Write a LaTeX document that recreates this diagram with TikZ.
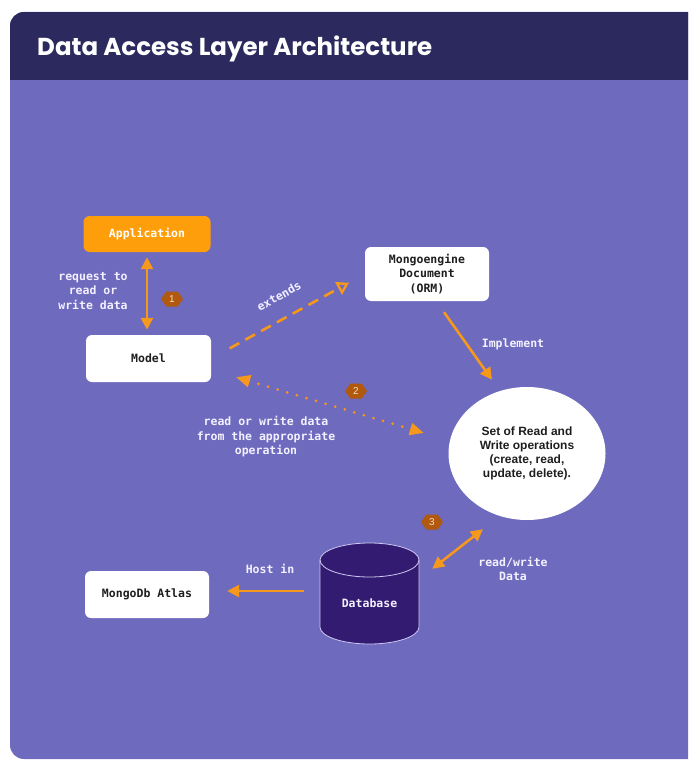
\documentclass[tikz,border=0pt]{standalone}
\usepackage{fontspec}
\setmainfont{Liberation Sans}
\setmonofont{DejaVu Sans Mono}
\newfontfamily\titlefont{Poppins}
\usetikzlibrary{arrows.meta,shapes.geometric,shapes.symbols,calc}

\definecolor{cardhead}{HTML}{2B295E}
\definecolor{cardbody}{HTML}{6E6ABE}
\definecolor{flow}{HTML}{F5981C}
\definecolor{appfill}{HTML}{FF9E0B}
\definecolor{badgefill}{HTML}{B0590F}
\definecolor{badgetext}{HTML}{F8DDBE}
\definecolor{dbfill}{HTML}{331B72}
\definecolor{dbline}{HTML}{CFC8F2}
\definecolor{labeltext}{HTML}{F3F1FF}
\definecolor{boxtext}{HTML}{1E1E1E}

\tikzset{
  box/.style={draw=none, fill=white, rounded corners=6pt, inner sep=0pt,
    align=center, text=boxtext, font=\ttfamily\bfseries\fontsize{11.5}{14.5}\selectfont},
  lbl/.style={text=labeltext, align=center, inner sep=0pt,
    font=\ttfamily\bfseries\fontsize{11.5}{14.5}\selectfont},
  badge/.style={signal, signal to=east and west, signal pointer angle=110,
    fill=badgefill, text=badgetext, inner sep=0pt, minimum width=22pt,
    minimum height=15pt, font=\fontsize{10}{11}\selectfont},
  flowline/.style={draw=flow, line width=2.6pt},
  ftip/.tip={Triangle[length=12pt,width=12pt]},
  fbigtip/.tip={Triangle[length=14pt,width=12pt]},
  fopentip/.tip={Triangle[open,length=12pt,width=14pt,line width=2.4pt]},
}

\begin{document}
\begin{tikzpicture}[x=1pt,y=-1pt]
\useasboundingbox (0,0) rectangle (688,760);
\clip (0,0) rectangle (688,760);

% card with its dark header band
\fill[cardbody, rounded corners=14pt] (10,12) rectangle (740,759);
\begin{scope}
  \clip[rounded corners=14pt] (10,12) rectangle (740,759);
  \fill[cardhead] (10,12) rectangle (740,80);
\end{scope}
\node[anchor=base west, inner sep=0pt, text=white,
  font=\titlefont\bfseries\fontsize{24.5}{28}\selectfont]
  (title) at (37,56) {Data Access Layer Architecture};

% nodes
\node[box, fill=appfill, text=white, minimum width=127pt, minimum height=36pt]
  (app) at (147,234) {Application};
\node[box, minimum width=125pt, minimum height=47pt] (model) at (148.5,358.5) {Model};
\node[box, minimum width=124pt, minimum height=54pt] (orm) at (427,274)
  {Mongoengine\\Document\\(ORM)};
\node[box, minimum width=124pt, minimum height=47pt] (atlas) at (147,594.5)
  {MongoDb Atlas};
\node[ellipse, fill=white, inner sep=0pt, minimum width=157pt, minimum height=133pt,
  align=center, text=boxtext, font=\bfseries\fontsize{12}{13.8}\selectfont]
  (ops) at (527,453.5) {Set of Read and\\Write operations\\(create, read,\\update, delete).};

% database cylinder
\fill[dbfill] (320,560) -- (320,627)
  arc[start angle=180, end angle=360, x radius=49.5pt, y radius=17pt]
  -- (419,560)
  arc[start angle=0, end angle=180, x radius=49.5pt, y radius=17pt] -- cycle;
\draw[dbline, line width=0.8pt] (320,560) -- (320,627)
  arc[start angle=180, end angle=360, x radius=49.5pt, y radius=17pt]
  -- (419,560);
\draw[dbline, line width=0.8pt] (369.5,560) ellipse[x radius=49.5pt, y radius=17pt];
\node[inner sep=0pt, minimum width=100pt, minimum height=101pt]
  (db) at (369.5,593.5) {};
\node[text=labeltext, font=\ttfamily\bfseries\fontsize{11.5}{14}\selectfont]
  (dbname) at (369.5,603) {Database};

% connectors
\draw[flowline, ftip-ftip, shorten <=5pt, shorten >=5pt] (app.south) -- (app.south |- model.north);
\draw[flowline, dash pattern=on 11pt off 7pt, -fopentip, shorten <=21pt, shorten >=18pt]
  (model.east) -- (orm.west);
\draw[flowline, -ftip] ($(orm.south)+(17,11)$) -- ($(ops.north)+(-35,-7)$);
\draw[flowline, line width=3pt, line cap=round, dash pattern=on 0pt off 10pt, fbigtip-fbigtip]
  ($(model.south east)+(25,-5)$) -- ($(ops.west)+(-24.5,-20.5)$);
\draw[flowline, ftip-ftip] ($(db.north east)+(12.5,26)$) -- ($(ops.south)+(-44,9)$);
\draw[flowline, -ftip, shorten <=15.5pt, shorten >=18pt]
  ($(db.west)+(0,-2.5)$) -- ($(atlas.east)+(0,-3.5)$);

% connector labels
\node[lbl] (l1) at (93,291) {request to\\read or\\write data};
\node[lbl, rotate=29] (l2) at (279,296) {extends};
\node[lbl] (l3) at (513,344) {Implement};
\node[lbl] (l4) at (266,437) {read or write data\\from the appropriate\\operation};
\node[lbl] (l5) at (513,569) {read/write\\Data};
\node[lbl] (l6) at (270,569) {Host in};

% step badges
\node[badge] (b1) at (172,299) {1};
\node[badge] (b2) at (356,391) {2};
\node[badge] (b3) at (432,522) {3};
\end{tikzpicture}
\end{document}
